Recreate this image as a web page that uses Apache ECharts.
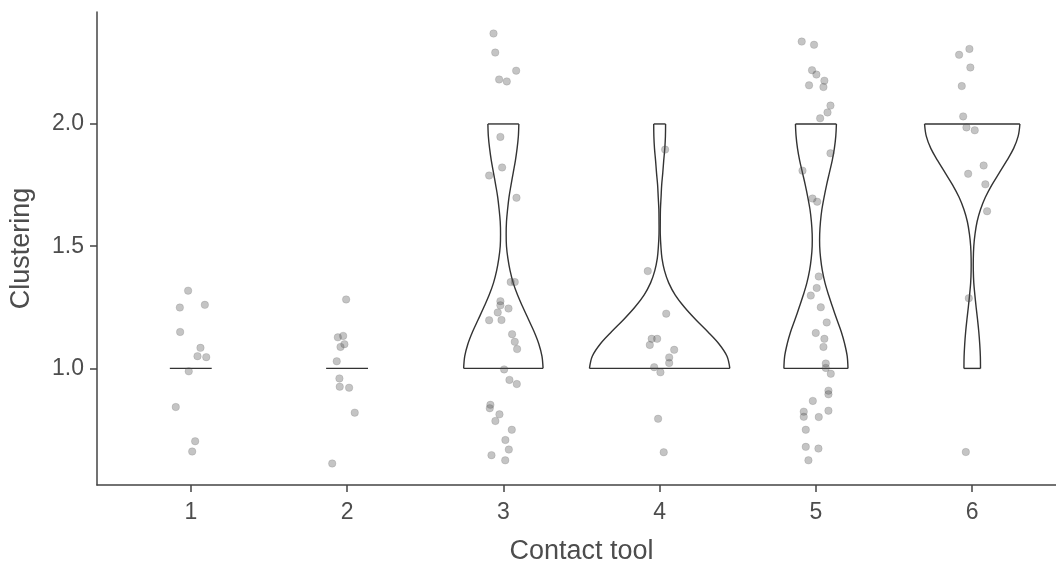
<!DOCTYPE html>
<html>
<head>
<meta charset="utf-8">
<title>Clustering by contact tool</title>
<script src="https://cdn.jsdelivr.net/npm/echarts@6/dist/echarts.min.js"></script>
<style>
  html, body { margin: 0; padding: 0; background: #fff; }
  #chart { width: 1056px; height: 565px; }
</style>
</head>
<body>
<div id="chart"></div>
<script>
// contact tool categories
const tools = [1, 2, 3, 4, 5, 6]

// jittered observations: [x offset from category, clustering value]
const pointsTool1 = [[-0.017, 1.318], [-0.070, 1.249], [0.090, 1.260], [-0.068, 1.149], [0.062, 1.084],
  [0.043, 1.050], [0.099, 1.046], [-0.013, 0.988], [-0.096, 0.842], [0.028, 0.702], [0.009, 0.660]]
const pointsTool2 = [[-0.006, 1.282], [-0.059, 1.127], [-0.025, 1.133], [-0.042, 1.088], [-0.017, 1.099],
  [-0.066, 1.029], [-0.049, 0.959], [-0.047, 0.925], [0.013, 0.921], [0.049, 0.819], [-0.095, 0.611]]
const pointsTool3 = [[-0.063, 2.370], [-0.052, 2.292], [0.082, 2.218], [-0.027, 2.182], [0.022, 2.174],
  [-0.019, 1.947], [-0.008, 1.822], [-0.091, 1.789], [0.084, 1.698], [0.047, 1.353], [0.073, 1.353],
  [-0.019, 1.275], [-0.019, 1.258], [0.033, 1.245], [-0.036, 1.229], [-0.091, 1.197], [-0.012, 1.198],
  [0.056, 1.140], [0.073, 1.109], [0.088, 1.079], [0.005, 0.996], [0.039, 0.953], [0.086, 0.936],
  [-0.083, 0.851], [-0.087, 0.837], [-0.025, 0.812], [-0.051, 0.785], [0.054, 0.749], [0.013, 0.707],
  [0.035, 0.668], [-0.076, 0.645], [0.012, 0.624]]
const pointsTool4 = [[0.035, 1.895], [-0.076, 1.398], [0.042, 1.224], [-0.051, 1.121], [-0.016, 1.121],
  [-0.063, 1.096], [0.093, 1.076], [0.061, 1.045], [0.061, 1.022], [-0.035, 1.005], [0.005, 0.984],
  [-0.010, 0.794], [0.026, 0.657]]
const pointsTool5 = [[-0.091, 2.337], [-0.012, 2.324], [-0.025, 2.220], [0.003, 2.202], [0.054, 2.177],
  [-0.044, 2.158], [0.048, 2.151], [0.093, 2.075], [0.074, 2.047], [0.027, 2.023], [0.093, 1.880],
  [-0.086, 1.809], [-0.022, 1.695], [0.008, 1.682], [0.018, 1.376], [0.005, 1.329], [-0.033, 1.298],
  [0.031, 1.250], [0.069, 1.188], [-0.001, 1.145], [0.054, 1.121], [0.048, 1.088], [0.063, 1.020],
  [0.063, 1.002], [0.095, 0.978], [0.080, 0.909], [0.080, 0.894], [-0.020, 0.867], [-0.078, 0.823],
  [-0.078, 0.802], [0.018, 0.801], [0.080, 0.827], [-0.065, 0.749], [-0.065, 0.679], [0.016, 0.672],
  [-0.048, 0.624]]
const pointsTool6 = [[-0.084, 2.283], [-0.018, 2.307], [-0.012, 2.231], [-0.067, 2.155], [-0.058, 2.031],
  [-0.037, 1.986], [0.016, 1.974], [0.073, 1.830], [-0.026, 1.796], [0.084, 1.753], [0.095, 1.643],
  [-0.022, 1.287], [-0.041, 0.658]]
const pointsByTool = [pointsTool1, pointsTool2, pointsTool3, pointsTool4, pointsTool5, pointsTool6]

// violin outlines: half width (x units) at each clustering level
const violinLevels = [1.00, 1.05, 1.10, 1.15, 1.20, 1.25, 1.30, 1.35, 1.40, 1.45, 1.50,
  1.55, 1.60, 1.65, 1.70, 1.75, 1.80, 1.85, 1.90, 1.95, 2.00]
const violinTool1 = [0.134]
const violinTool2 = [0.134]
const violinTool3 = [0.254, 0.247, 0.227, 0.197, 0.161, 0.125, 0.091, 0.063, 0.043, 0.029, 0.020,
  0.018, 0.020, 0.027, 0.036, 0.049, 0.063, 0.077, 0.088, 0.096, 0.099]
const violinTool4 = [0.449, 0.431, 0.380, 0.308, 0.230, 0.159, 0.100, 0.058, 0.031, 0.015, 0.008,
  0.004, 0.004, 0.005, 0.009, 0.013, 0.020, 0.026, 0.033, 0.037, 0.038]
const violinTool5 = [0.205, 0.200, 0.184, 0.162, 0.134, 0.107, 0.081, 0.058, 0.041, 0.030, 0.024,
  0.024, 0.029, 0.038, 0.052, 0.068, 0.086, 0.104, 0.118, 0.127, 0.131]
const violinTool6 = [0.053, 0.052, 0.048, 0.042, 0.034, 0.025, 0.017, 0.010, 0.007, 0.007, 0.010,
  0.018, 0.031, 0.053, 0.084, 0.125, 0.173, 0.221, 0.265, 0.294, 0.305]
const violinByTool = [violinTool1, violinTool2, violinTool3, violinTool4, violinTool5, violinTool6]

const yTicks = [1.0, 1.5, 2.0]

const FONT = 'Liberation Sans, Arial, sans-serif'
const chart = echarts.init(document.getElementById('chart'))

const scatterData = []
pointsByTool.forEach((pts, i) => {
  pts.forEach(p => scatterData.push([tools[i] + p[0], p[1]]))
})

function renderViolin(params, api) {
  const i = api.value(0)
  const c = tools[i]
  const widths = violinByTool[i]
  const style = { stroke: '#333', lineWidth: 1.4, fill: 'none' }
  if (widths.length === 1) {
    const a = api.coord([c - widths[0], violinLevels[0]])
    const b = api.coord([c + widths[0], violinLevels[0]])
    return { type: 'line', shape: { x1: a[0], y1: a[1], x2: b[0], y2: b[1] }, style }
  }
  const left = widths.map((w, k) => api.coord([c - w, violinLevels[k]]))
  const right = widths.map((w, k) => api.coord([c + w, violinLevels[k]]))
  const n = widths.length - 1
  return {
    type: 'group',
    children: [
      { type: 'polyline', shape: { points: left, smooth: 0.35 }, style },
      { type: 'polyline', shape: { points: right, smooth: 0.35 }, style },
      { type: 'line', shape: { x1: left[0][0], y1: left[0][1], x2: right[0][0], y2: right[0][1] }, style },
      { type: 'line', shape: { x1: left[n][0], y1: left[n][1], x2: right[n][0], y2: right[n][1] }, style }
    ]
  }
}

chart.setOption({
  animation: false,
  backgroundColor: '#fff',
  // panel runs slightly past the right edge of the window, as in the source figure
  grid: { left: 97, top: 12, width: 969, height: 473, outerBoundsMode: 'none' },
  xAxis: {
    type: 'value',
    min: 0.4,
    max: 6.6,
    name: 'Contact tool',
    nameLocation: 'middle',
    nameGap: 53,
    nameTextStyle: { fontFamily: FONT, fontSize: 27, color: '#4d4d4d' },
    axisLine: { lineStyle: { color: '#444', width: 1.5 } },
    axisTick: { customValues: tools, length: 7, lineStyle: { color: '#444', width: 1.5 } },
    axisLabel: {
      customValues: tools, margin: 16,
      fontFamily: FONT, fontSize: 23, color: '#4d4d4d'
    },
    splitLine: { show: false }
  },
  yAxis: {
    type: 'value',
    min: 0.523,
    max: 2.458,
    name: 'Clustering',
    nameLocation: 'middle',
    nameGap: 62,
    nameTextStyle: { fontFamily: FONT, fontSize: 27, color: '#4d4d4d' },
    axisLine: { lineStyle: { color: '#444', width: 1.5 } },
    axisTick: { customValues: yTicks, length: 7, lineStyle: { color: '#444', width: 1.5 } },
    axisLabel: {
      customValues: yTicks, margin: 13,
      fontFamily: FONT, fontSize: 23, color: '#4d4d4d',
      formatter: v => v.toFixed(1)
    },
    splitLine: { show: false }
  },
  series: [
    {
      type: 'custom',
      renderItem: renderViolin,
      data: tools.map((t, i) => [i]),
      encode: { x: -1, y: -1 },
      z: 2
    },
    {
      type: 'scatter',
      data: scatterData,
      symbolSize: 7.5,
      itemStyle: { color: 'rgba(80,80,80,0.42)', borderColor: 'rgba(60,60,60,0.3)', borderWidth: 0.6 },
      z: 3
    }
  ]
})
</script>
</body>
</html>
